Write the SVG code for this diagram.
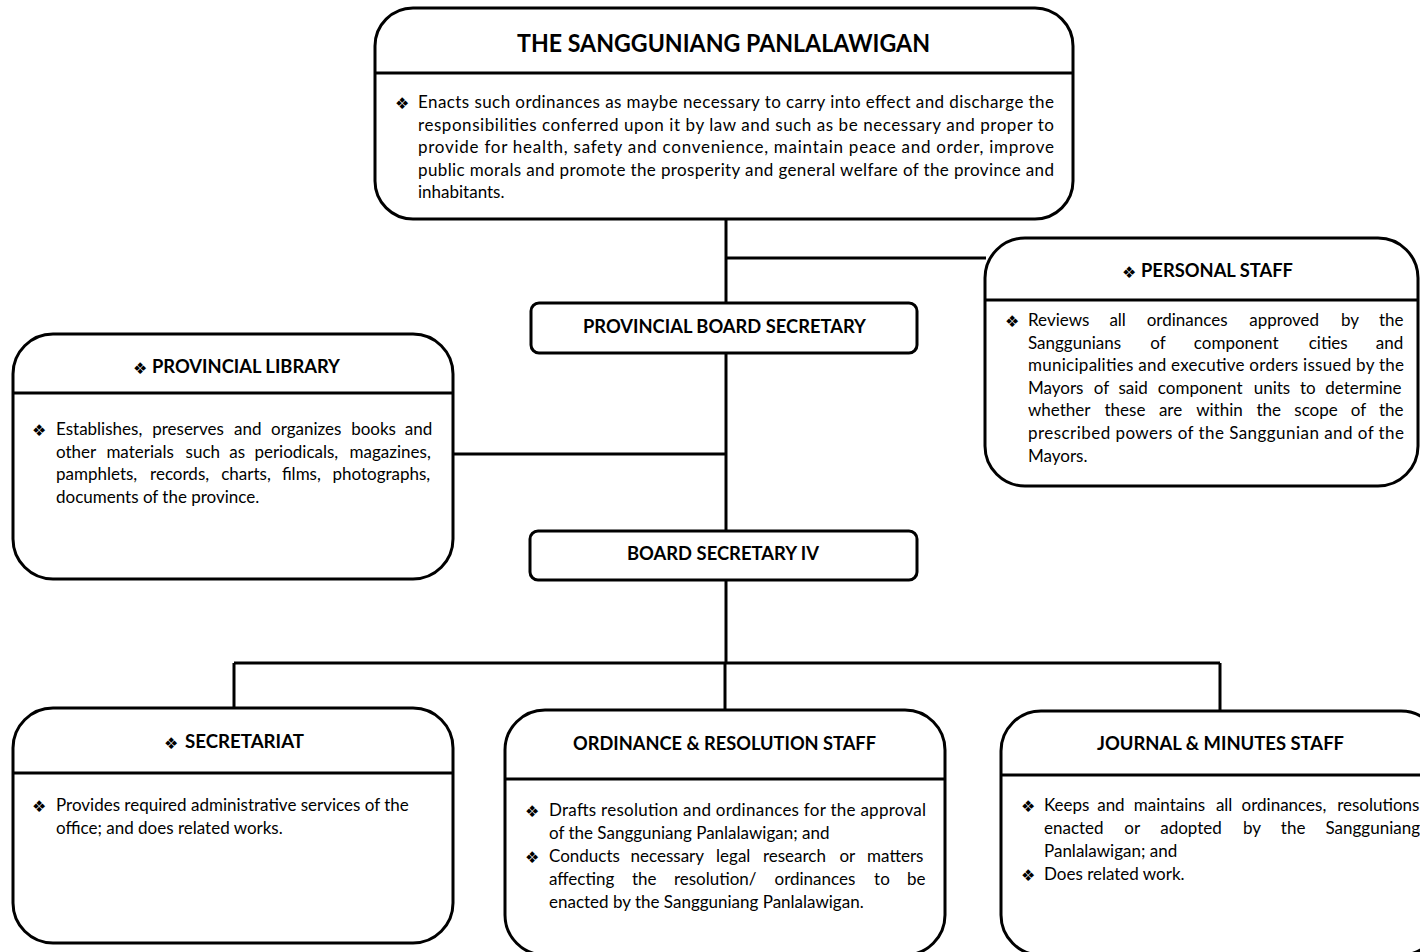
<svg xmlns="http://www.w3.org/2000/svg" width="1420" height="952" viewBox="0 0 1420 952">
  <style>
    .box { fill: #fff; stroke: #000; stroke-width: 3; }
    .rule { stroke: #000; stroke-width: 3; fill: none; }
    .link { stroke: #000; stroke-width: 3; fill: none; }
    text { fill: #000; }
    .t { font-family: Lato, "Open Sans", "Liberation Sans", sans-serif; font-size: 17px; }
    .h { font-family: Lato, "Open Sans", "Liberation Sans", sans-serif; font-size: 19px; font-weight: bold; }
    .ttl { font-family: Lato, "Open Sans", "Liberation Sans", sans-serif; font-size: 24px; font-weight: bold; }
    .b { font-family: "DejaVu Sans", sans-serif; font-size: 16px; }
  </style>
  <rect width="1420" height="952" fill="#fff"/>

  <!-- connectors -->
  <g id="connectors">
    <path class="link" d="M726 219 V303"/>
    <path class="link" d="M726 258 H986"/>
    <path class="link" d="M726 353 V531"/>
    <path class="link" d="M453 454 H726"/>
    <path class="link" d="M726 580 V663"/>
    <path class="link" d="M234 663 H1220"/>
    <path class="link" d="M234 663 V708"/>
    <path class="link" d="M725 663 V710"/>
    <path class="link" d="M1220 663 V711"/>
  </g>

  <!-- council -->
  <g id="sangguniang">
    <rect class="box" x="375" y="8" width="698" height="211" rx="38"/>
    <path class="rule" d="M375 73 H1073"/>
    <text class="ttl" x="723.5" y="52" text-anchor="middle" textLength="413" lengthAdjust="spacingAndGlyphs">THE SANGGUNIANG PANLALAWIGAN</text>
    <text class="b" x="395" y="109">❖</text>
    <text class="t" x="418" y="108" textLength="636" lengthAdjust="spacing">Enacts such ordinances as maybe necessary to carry into effect and discharge the</text>
    <text class="t" x="418" y="130.5" textLength="636" lengthAdjust="spacing">responsibilities conferred upon it by law and such as be necessary and proper to</text>
    <text class="t" x="418" y="153" textLength="636" lengthAdjust="spacing">provide for health, safety and convenience, maintain peace and order, improve</text>
    <text class="t" x="418" y="175.5" textLength="636" lengthAdjust="spacing">public morals and promote the prosperity and general welfare of the province and</text>
    <text class="t" x="418" y="198">inhabitants.</text>
  </g>

  <!-- personal staff -->
  <g id="personal-staff">
    <rect class="box" x="985" y="238" width="433" height="248" rx="40"/>
    <path class="rule" d="M985 300 H1418"/>
    <text class="b" x="1122" y="278">❖</text>
    <text class="h" x="1141" y="277" textLength="152" lengthAdjust="spacingAndGlyphs">PERSONAL STAFF</text>
    <text class="b" x="1005" y="327">❖</text>
    <text class="t" y="326"><tspan x="1028">Reviews</tspan><tspan x="1109.4">all</tspan><tspan x="1146.7">ordinances</tspan><tspan x="1249.3">approved</tspan><tspan x="1341">by</tspan><tspan x="1379">the</tspan></text>
    <text class="t" y="348.6"><tspan x="1028">Sanggunians</tspan><tspan x="1150.2">of</tspan><tspan x="1193.8">component</tspan><tspan x="1308.7">cities</tspan><tspan x="1375.8">and</tspan></text>
    <text class="t" x="1028" y="371.2" textLength="376" lengthAdjust="spacing">municipalities and executive orders issued by the</text>
    <text class="t" y="393.8"><tspan x="1028">Mayors</tspan><tspan x="1093.8">of</tspan><tspan x="1118.4">said</tspan><tspan x="1157.8">component</tspan><tspan x="1253.7">units</tspan><tspan x="1300">to</tspan><tspan x="1325.3">determine</tspan></text>
    <text class="t" y="416.4"><tspan x="1028">whether</tspan><tspan x="1104.5">these</tspan><tspan x="1158.9">are</tspan><tspan x="1196.2">within</tspan><tspan x="1256.4">the</tspan><tspan x="1294.3">scope</tspan><tspan x="1350.8">of</tspan><tspan x="1379">the</tspan></text>
    <text class="t" x="1028" y="439" textLength="376" lengthAdjust="spacing">prescribed powers of the Sanggunian and of the</text>
    <text class="t" x="1028" y="461.6">Mayors.</text>
  </g>

  <!-- provincial board secretary -->
  <g id="provincial-board-secretary">
    <rect class="box" x="531" y="303" width="386" height="50" rx="8"/>
    <text class="h" x="724.5" y="333" text-anchor="middle" textLength="283" lengthAdjust="spacingAndGlyphs">PROVINCIAL BOARD SECRETARY</text>
  </g>

  <!-- provincial library -->
  <g id="provincial-library">
    <rect class="box" x="13" y="334" width="440" height="245" rx="40"/>
    <path class="rule" d="M13 393 H453"/>
    <text class="b" x="133" y="374">❖</text>
    <text class="h" x="152" y="373" textLength="188" lengthAdjust="spacingAndGlyphs">PROVINCIAL LIBRARY</text>
    <text class="b" x="32" y="436">❖</text>
    <text class="t" y="435"><tspan x="56">Establishes,</tspan><tspan x="152.2">preserves</tspan><tspan x="234">and</tspan><tspan x="271">organizes</tspan><tspan x="351.2">books</tspan><tspan x="404.8">and</tspan></text>
    <text class="t" y="457.5"><tspan x="56">other</tspan><tspan x="106.4">materials</tspan><tspan x="185.6">such</tspan><tspan x="229.2">as</tspan><tspan x="254.4">periodicals,</tspan><tspan x="349.6">magazines,</tspan></text>
    <text class="t" y="480"><tspan x="56">pamphlets,</tspan><tspan x="150.1">records,</tspan><tspan x="221.2">charts,</tspan><tspan x="281.9">films,</tspan><tspan x="332.5">photographs,</tspan></text>
    <text class="t" x="56" y="502.5">documents of the province.</text>
  </g>

  <!-- board secretary iv -->
  <g id="board-secretary-iv">
    <rect class="box" x="530" y="531" width="387" height="49" rx="8"/>
    <text class="h" x="723" y="560" text-anchor="middle" textLength="192" lengthAdjust="spacingAndGlyphs">BOARD SECRETARY IV</text>
  </g>

  <!-- secretariat -->
  <g id="secretariat">
    <rect class="box" x="13" y="708" width="440" height="235" rx="40"/>
    <path class="rule" d="M13 773 H453"/>
    <text class="b" x="164" y="749">❖</text>
    <text class="h" x="185" y="748" textLength="119" lengthAdjust="spacingAndGlyphs">SECRETARIAT</text>
    <text class="b" x="32" y="812">❖</text>
    <text class="t" x="56" y="811">Provides required administrative services of the</text>
    <text class="t" x="56" y="834">office; and does related works.</text>
  </g>

  <!-- ordinance and resolution staff -->
  <g id="ordinance-resolution-staff">
    <rect class="box" x="505" y="710" width="440" height="245" rx="40"/>
    <path class="rule" d="M505 779 H945"/>
    <text class="h" x="724.5" y="750" text-anchor="middle" textLength="303" lengthAdjust="spacingAndGlyphs">ORDINANCE &amp; RESOLUTION STAFF</text>
    <text class="b" x="525" y="817">❖</text>
    <text class="t" x="549" y="816" textLength="377" lengthAdjust="spacing">Drafts resolution and ordinances for the approval</text>
    <text class="t" x="549" y="839">of the Sangguniang Panlalawigan; and</text>
    <text class="b" x="525" y="863">❖</text>
    <text class="t" y="862"><tspan x="549">Conducts</tspan><tspan x="630.5">necessary</tspan><tspan x="716.1">legal</tspan><tspan x="762.9">research</tspan><tspan x="839.4">or</tspan><tspan x="867.1">matters</tspan></text>
    <text class="t" y="885"><tspan x="549">affecting</tspan><tspan x="631.9">the</tspan><tspan x="673.9">resolution/</tspan><tspan x="774.5">ordinances</tspan><tspan x="874.1">to</tspan><tspan x="907">be</tspan></text>
    <text class="t" x="549" y="908">enacted by the Sangguniang Panlalawigan.</text>
  </g>

  <!-- journal and minutes staff -->
  <g id="journal-minutes-staff">
    <rect class="box" x="1001" y="711" width="440" height="244" rx="40"/>
    <path class="rule" d="M1001 775 H1441"/>
    <text class="h" x="1220.5" y="750" text-anchor="middle" textLength="247" lengthAdjust="spacingAndGlyphs">JOURNAL &amp; MINUTES STAFF</text>
    <text class="b" x="1021" y="812">❖</text>
    <text class="t" y="811"><tspan x="1044">Keeps</tspan><tspan x="1097.2">and</tspan><tspan x="1133.8">maintains</tspan><tspan x="1215.9">all</tspan><tspan x="1241.6">ordinances,</tspan><tspan x="1337.2">resolutions</tspan></text>
    <text class="t" y="834"><tspan x="1044">enacted</tspan><tspan x="1124.3">or</tspan><tspan x="1160.2">adopted</tspan><tspan x="1243">by</tspan><tspan x="1280.8">the</tspan><tspan x="1325.5">Sangguniang</tspan></text>
    <text class="t" x="1044" y="857">Panlalawigan; and</text>
    <text class="b" x="1021" y="881">❖</text>
    <text class="t" x="1044" y="880">Does related work.</text>
  </g>
</svg>
